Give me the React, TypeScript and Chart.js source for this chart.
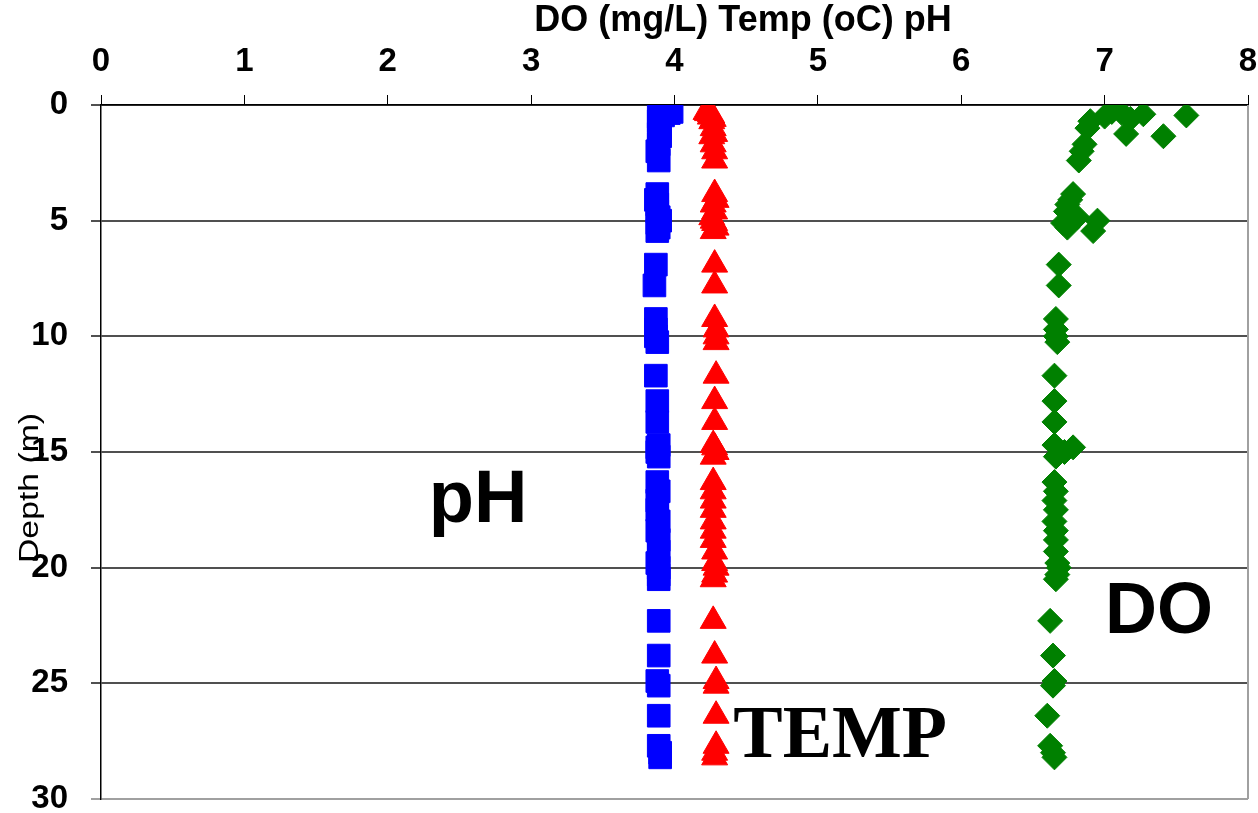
import React, { useEffect, useRef } from "react";
import { Chart, registerables } from "chart.js";

Chart.register(...registerables);

// Depth of each measurement (m)
const depths = [
  0.3, 0.35, 0.4, 0.45, 0.5, 0.6, 0.7, 1.0, 1.25, 1.35, 1.7, 2.0, 2.4,
  3.85, 4.1, 4.3, 4.6, 4.85, 5.0, 5.1, 5.3, 5.45, 6.9, 7.8, 9.25, 9.7,
  10.0, 10.25, 11.7, 12.8, 13.7, 14.7, 14.8, 15.0, 15.2, 16.3, 16.7, 17.1,
  17.5, 18.0, 18.4, 18.8, 19.3, 19.8, 20.0, 20.3, 20.5, 22.3, 23.8, 24.9,
  25.1, 26.4, 27.7, 28.0, 28.2,
];

// Dissolved oxygen (mg/L)
const doValues = [
  7.05, 7.12, 7.27, 7.57, 7.0, 7.18, 6.9, 6.88, 7.15, 7.41, 6.86, 6.84, 6.82,
  6.78, 6.76, 6.74, 6.73, 6.81, 6.95, 6.71, 6.74, 6.92, 6.68, 6.68, 6.66, 6.66,
  6.66, 6.67, 6.65, 6.65, 6.65, 6.65, 6.78, 6.72, 6.66, 6.65, 6.66, 6.65,
  6.66, 6.65, 6.66, 6.66, 6.66, 6.67, 6.68, 6.67, 6.66, 6.62, 6.64, 6.65,
  6.64, 6.6, 6.62, 6.64, 6.65,
];

// pH
const phValues = [
  3.98, 3.96, 3.9, 3.92, 3.89, 3.9, 3.89, 3.9, 3.89, 3.9, 3.89, 3.88, 3.89,
  3.88, 3.87, 3.88, 3.88, 3.89, 3.9, 3.88, 3.89, 3.88, 3.87, 3.86, 3.87, 3.87,
  3.87, 3.88, 3.87, 3.88, 3.88, 3.89, 3.88, 3.88, 3.89, 3.88, 3.89, 3.88,
  3.88, 3.89, 3.88, 3.89, 3.89, 3.88, 3.89, 3.89, 3.89, 3.89, 3.89, 3.88,
  3.89, 3.89, 3.89, 3.9, 3.9,
];

// Temperature (oC)
const tempValues = [
  4.22, 4.23, 4.25, 4.26, 4.25, 4.27, 4.26, 4.27, 4.28, 4.26, 4.27, 4.28, 4.28,
  4.28, 4.29, 4.27, 4.28, 4.26, 4.27, 4.28, 4.29, 4.27, 4.28, 4.28, 4.28, 4.29,
  4.29, 4.29, 4.29, 4.28, 4.28, 4.27, 4.28, 4.29, 4.27, 4.27, 4.27, 4.27,
  4.27, 4.27, 4.27, 4.27, 4.28, 4.28, 4.29, 4.28, 4.27, 4.27, 4.28, 4.29,
  4.29, 4.29, 4.29, 4.28, 4.28,
];

const xMin = 0;
const xMax = 8;
const xStep = 1;
const yMin = 0;
const yMax = 30;
const yStep = 5;

const xTitle = "DO (mg/L) Temp (oC) pH";
const yTitle = "Depth (m)";
const phLabel = "pH";
const doLabel = "DO";
const tempLabel = "TEMP";

const SANS = "'Liberation Sans', Arial, sans-serif";
const SERIF = "'Liberation Serif', 'Times New Roman', serif";

const W = 1258;
const H = 813;
// canvas slightly larger than the frame so the axis-label overflow reserve falls outside
const CW = 1265;
const CH = 816;

const toPoints = (vals: number[]) => vals.map((v, i) => ({ x: v, y: depths[i] }));

const decorPlugin = {
  id: "decor",
  afterDraw(chart: any) {
    const ctx = chart.ctx as CanvasRenderingContext2D;
    const area = chart.chartArea;
    const xs = chart.scales.x;
    const ys = chart.scales.y;
    ctx.save();
    // right frame line
    ctx.strokeStyle = "#a0a0a0";
    ctx.lineWidth = 2;
    ctx.beginPath();
    ctx.moveTo(area.right, area.top);
    ctx.lineTo(area.right, area.bottom);
    ctx.stroke();

    ctx.fillStyle = "#000";
    // top axis title
    ctx.font = `bold 36px ${SANS}`;
    ctx.textAlign = "center";
    ctx.textBaseline = "middle";
    ctx.fillText(xTitle, 743, 21);

    // y axis title (rotated)
    ctx.save();
    ctx.translate(31, 488);
    ctx.rotate(-Math.PI / 2);
    ctx.scale(1.25, 1);
    ctx.font = `27px ${SANS}`;
    ctx.textAlign = "center";
    ctx.textBaseline = "middle";
    ctx.fillText(yTitle, 0, 0);
    ctx.restore();

    // annotations
    ctx.textBaseline = "alphabetic";
    ctx.textAlign = "center";
    ctx.font = `bold 74px ${SANS}`;
    ctx.fillText(phLabel, xs.getPixelForValue(2.63), ys.getPixelForValue(18.03));
    ctx.font = `bold 72px ${SANS}`;
    ctx.fillText(doLabel, xs.getPixelForValue(7.38), ys.getPixelForValue(22.83));
    ctx.textAlign = "left";
    ctx.font = `bold 74px ${SERIF}`;
    ctx.fillText(tempLabel, xs.getPixelForValue(4.41), ys.getPixelForValue(28.2));
    ctx.restore();
  },
};

export default function App() {
  const canvasRef = useRef<HTMLCanvasElement | null>(null);

  useEffect(() => {
    if (!canvasRef.current) return;
    const chart = new Chart(canvasRef.current, {
      type: "scatter",
      data: {
        datasets: [
          {
            label: "pH",
            data: toPoints(phValues),
            pointStyle: "rect",
            pointRadius: 16,
            backgroundColor: "#0000ff",
            borderColor: "#0000ff",
            borderWidth: 1,
          },
          {
            label: "Temp",
            data: toPoints(tempValues),
            pointStyle: "triangle",
            pointRadius: 15,
            backgroundColor: "#ff0000",
            borderColor: "#ff0000",
            borderWidth: 1,
          },
          {
            label: "DO",
            data: toPoints(doValues),
            pointStyle: "rectRot",
            pointRadius: 12.5,
            backgroundColor: "#008000",
            borderColor: "#008000",
            borderWidth: 1,
          },
        ],
      },
      options: {
        animation: false,
        responsive: false,
        maintainAspectRatio: false,
        devicePixelRatio: 1,
        layout: { padding: { left: 0, right: 4, top: 0, bottom: 11 } },
        plugins: {
          legend: { display: false },
          tooltip: { enabled: false },
          title: { display: false },
        },
        scales: {
          x: {
            type: "linear",
            position: "top",
            min: xMin,
            max: xMax,
            afterFit: (s: any) => {
              s.height = 105;
              s.paddingLeft = 0;
              s.paddingRight = 0;
            },
            ticks: {
              stepSize: xStep,
              padding: 13,
              color: "#000",
              font: { family: SANS, size: 33, weight: "bold" },
            },
            grid: {
              drawOnChartArea: false,
              drawTicks: true,
              tickLength: 10,
              color: "#000",
              lineWidth: 1,
            },
            border: { display: true, color: "#000", width: 1.5 },
          },
          y: {
            type: "linear",
            reverse: true,
            min: yMin,
            max: yMax,
            afterFit: (s: any) => {
              s.width = 101;
              s.paddingTop = 0;
              s.paddingBottom = 0;
            },
            ticks: {
              stepSize: yStep,
              padding: 23,
              color: "#000",
              font: { family: SANS, size: 33, weight: "bold" },
            },
            grid: {
              drawTicks: true,
              tickLength: 10,
              color: (c: any) => (c.tick && c.tick.value === yMax ? "#a0a0a0" : "#505050"),
              lineWidth: 2,
            },
            border: { display: true, color: "#000", width: 1.5 },
          },
        },
      },
      plugins: [decorPlugin],
    });
    return () => chart.destroy();
  }, []);

  return (
    <div
      style={{
        position: "absolute",
        left: 0,
        top: 0,
        width: W,
        height: H,
        overflow: "hidden",
        background: "#fff",
      }}
    >
      <canvas
        ref={canvasRef}
        width={CW}
        height={CH}
        style={{ display: "block", width: CW, height: CH }}
      />
    </div>
  );
}
